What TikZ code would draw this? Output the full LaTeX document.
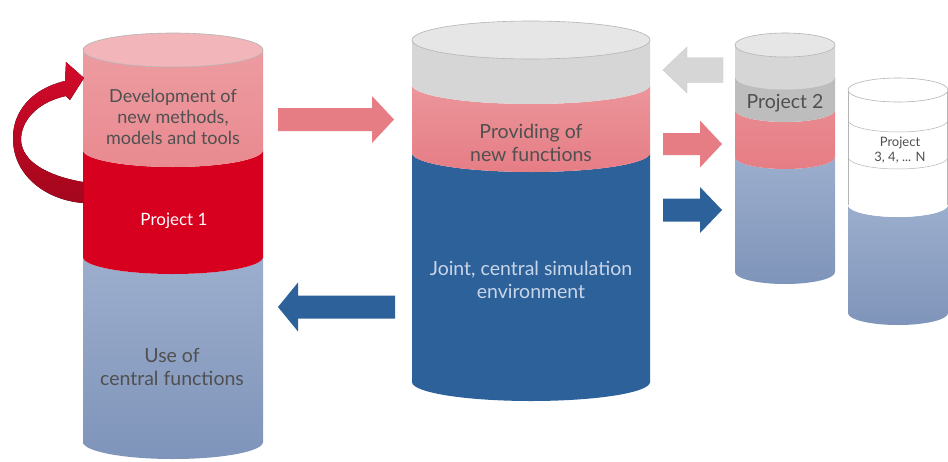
\documentclass[tikz,border=0pt]{standalone}
\usepackage{fontspec}
\setmainfont{Lato}
\definecolor{pinktop}{HTML}{F2B5B9}
\definecolor{pinkband}{HTML}{E98A90}
\definecolor{pinkdeep}{HTML}{E67D85}
\definecolor{redband}{HTML}{D7011F}
\definecolor{redarrowA}{HTML}{A3071D}
\definecolor{redarrowB}{HTML}{D3092A}
\definecolor{bluelightA}{HTML}{9CAECD}
\definecolor{bluelightB}{HTML}{7F94BA}
\definecolor{bluedark}{HTML}{2D6199}
\definecolor{greytop}{HTML}{E6E6E6}
\definecolor{greyband}{HTML}{D6D6D6}
\definecolor{greydeep}{HTML}{BDBDBD}
\definecolor{rimline}{HTML}{B4B4B4}
\definecolor{textgrey}{HTML}{505050}
\definecolor{textblue}{HTML}{C9D5E8}

% band of a cylinder between the lower arcs of two rims: cx, rx, ry, ytop, ybottom, style
\newcommand\cylband[6]{%
  \path[#6] (#1-#2,#4) arc[start angle=180,end angle=0,x radius=#2,y radius=#3]
    -- (#1+#2,#5) arc[start angle=0,end angle=180,x radius=#2,y radius=#3] -- cycle;}
% top face of a cylinder: cx, rx, ry, y, style
\newcommand\cyltop[5]{%
  \path[#5] (#1,#4) ellipse[x radius=#2,y radius=#3];}
% lower arc of a rim line: cx, rx, ry, y, style
\newcommand\cylrim[5]{%
  \path[#5] (#1-#2,#4) arc[start angle=180,end angle=0,x radius=#2,y radius=#3];}
% block arrow: x of tail, x of head base, x of tip, y of axis, half shaft, half head, style
\newcommand\blockarrow[7]{%
  \path[#7] (#1,#4-#5) -- (#2,#4-#5) -- (#2,#4-#6) -- (#3,#4) -- (#2,#4+#6)
    -- (#2,#4+#5) -- (#1,#4+#5) -- cycle;}

\tikzset{
  lbl/.style={font=\fontsize{19.5}{23.5}\selectfont, align=center, text=textgrey, inner sep=0pt},
  devlbl/.style={lbl, font=\fontsize{18}{21}\selectfont},
  smalllbl/.style={font=\fontsize{13}{15.5}\selectfont, align=center, text=textgrey, inner sep=0pt},
  bluegrad/.style={top color=bluelightA, bottom color=bluelightB},
}

\begin{document}
\begin{tikzpicture}[x=1pt,y=-1pt]
\useasboundingbox (0,0) rectangle (948,461);
\fill[white] (0,0) rectangle (948,461);

% ---------- Project 1 cylinder ----------
\cylband{173}{90}{17}{257}{442}{bluegrad}
\cylband{173}{90}{17}{150}{257}{fill=redband}
\cylband{173}{90}{17}{50}{150}{top color=pinkband!85!white, bottom color=pinkband}
\cyltop{173}{90}{17}{50}{fill=pinktop, draw=rimline, line width=0.6pt}

% loop arrow on the left of Project 1
\fill[top color=redarrowB, bottom color=redarrowA]
  (83,182) .. controls (48,176) and (22,162) .. (21,140)
  .. controls (21,120) and (38,102) .. (66,96)
  -- (70,100) -- (84,78) -- (66,62) -- (65,81)
  .. controls (34,88) and (12,110) .. (13,140)
  .. controls (14,176) and (46,200) .. (83,203) -- cycle;

\node[devlbl] (dev) at (173,117) {Development of\\new methods,\\models and tools};
\node[lbl, font=\fontsize{17}{20}\selectfont, text=white] (p1) at (174,221) {Project 1};
\node[lbl] (use) at (172,367) {Use of\\central functions};

% ---------- central cylinder ----------
\cylband{531}{119}{19}{153}{382}{fill=bluedark}
\cylband{531}{119}{19}{85}{153}{top color=pinkband!90!white, bottom color=pinkdeep}
\cylband{531}{119}{19}{40}{85}{fill=greyband}
\cyltop{531}{119}{19}{40}{fill=greytop, draw=rimline, line width=0.6pt}

\node[lbl] (prov) at (531,143) {Providing of\\new functions};
\node[lbl, text=textblue] (joint) at (531,280) {Joint, central simulation\\environment};

% ---------- Project 2 cylinder ----------
\cylband{785}{50}{12}{157}{272}{bluegrad}
\cylband{785}{50}{12}{110}{157}{top color=pinkband, bottom color=pinkdeep}
\cylband{785}{50}{12}{78}{110}{fill=greydeep}
\cylband{785}{50}{12}{45}{78}{fill=greyband}
\cyltop{785}{50}{12}{45}{fill=greytop, draw=rimline, line width=0.6pt}
\cylrim{785}{50}{12}{78}{draw=rimline, line width=0.5pt}
\node[lbl] (p2) at (785,103) {Project 2};

% ---------- Project 3 ... N cylinder ----------
\cylband{898}{50}{12}{205}{313}{bluegrad}
\cylband{898}{50}{12}{90}{205}{fill=white}
\draw[rimline, line width=0.5pt] (848,90) -- (848,205) (947.5,90) -- (947.5,205);
\cyltop{898}{50}{12}{90}{fill=white, draw=rimline, line width=0.6pt}
\cylrim{898}{50}{12}{120}{draw=rimline, line width=0.5pt}
\cylrim{898}{50}{12}{157}{draw=rimline, line width=0.5pt}
\node[smalllbl] (pn) at (900,150) {Project\\3, 4, ... N};

% ---------- block arrows ----------
\blockarrow{278}{372}{394}{119.5}{11.5}{23.5}{fill=pinkdeep}
\blockarrow{395}{298}{278}{307}{11.5}{24.5}{fill=bluedark}
\blockarrow{723}{687}{663}{70}{12.5}{23}{fill=greyband, draw=rimline!70!white, line width=0.4pt}
\blockarrow{663}{700}{722}{144}{11}{23.5}{fill=pinkdeep}
\blockarrow{663}{700}{722}{210}{11.5}{23}{fill=bluedark}
\end{tikzpicture}
\end{document}
